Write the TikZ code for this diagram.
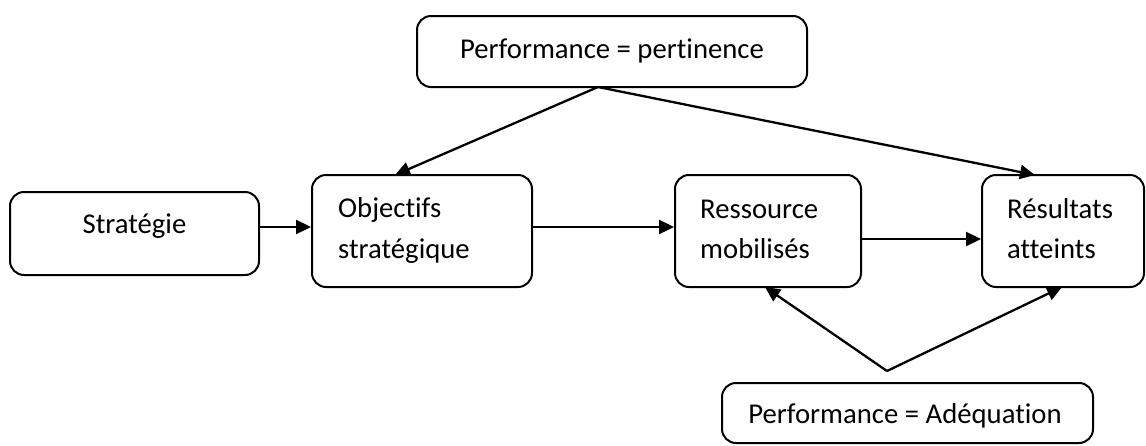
\documentclass[tikz,border=0pt]{standalone}
\usepackage{fontspec}
\setmainfont{Carlito}[Ligatures={NoCommon}]
\usetikzlibrary{arrows.meta,calc}
\begin{document}
\begin{tikzpicture}[x=1pt,y=-1pt,
  box/.style={draw=black,line width=2pt,rounded corners=14pt},
  lbl/.style={inner sep=0pt,font=\fontsize{28.7}{41}\selectfont},
  arr/.style={draw=black,line width=2.3pt,-{Triangle[length=15pt,width=14pt]}}]
\useasboundingbox[fill=white] (0,0) rectangle (1146,445);
% boxes
\node[box,minimum width=390pt,minimum height=71pt] (top) at (612,51.5) {};
\node[box,minimum width=249pt,minimum height=83pt] (strat) at (134.5,233.5) {};
\node[box,minimum width=220pt,minimum height=112pt] (obj) at (422,231) {};
\node[box,minimum width=186pt,minimum height=112pt] (res) at (768,231) {};
\node[box,minimum width=162pt,minimum height=112pt] (resu) at (1063,231) {};
\node[box,minimum width=371pt,minimum height=60pt] (bot) at (907.5,413) {};
% texts
\node[lbl,anchor=base] (ttop) at (612,58) {Performance = pertinence};
\node[lbl,anchor=base] (tstrat) at (134.5,233) {Stratégie};
\node[lbl,anchor=base west] (tobj1) at (338,217) {Objectifs};
\node[lbl,anchor=base west] (tobj2) at (338,258) {stratégique};
\node[lbl,anchor=base west] (tres1) at (700,218) {Ressource};
\node[lbl,anchor=base west] (tres2) at (700,258) {mobilisés};
\node[lbl,anchor=base west] (tresu1) at (1007,218) {Résultats};
\node[lbl,anchor=base west] (tresu2) at (1007,258) {atteints};
\node[lbl,anchor=base] (tbot) at (905,423) {Performance = Adéquation};
% connector anchor points
\coordinate (apexT) at (598,87);
\coordinate (apexB) at (887,371);
\coordinate (objIn) at (395,175);
\coordinate (resuInT) at (1035,175);
\coordinate (resInB) at (765,287);
\coordinate (resuInB) at (1062,287);
% connectors
\draw[arr] (apexT) -- (objIn);
\draw[arr] (apexT) -- (resuInT);
\draw[arr] (strat.east |- 0,227) -- (obj.west |- 0,227);
\draw[arr] (obj.east |- 0,227) -- (res.west |- 0,227);
\draw[arr] (res.east |- 0,239) -- (resu.west |- 0,239);
\draw[arr] (apexB) -- (resInB);
\draw[arr] (apexB) -- (resuInB);
\end{tikzpicture}
\end{document}
